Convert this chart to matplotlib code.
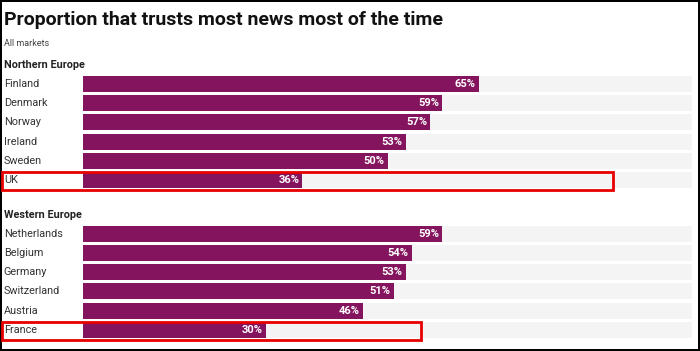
import matplotlib
matplotlib.use("Agg")
import matplotlib.pyplot as plt
from matplotlib.patches import Rectangle

plt.rcParams['font.family'] = ['Roboto', 'DejaVu Sans']

# data
northern = ['Finland', 'Denmark', 'Norway', 'Ireland', 'Sweden', 'UK']
northern_vals = [65, 59, 57, 53, 50, 36]
western = ['Netherlands', 'Belgium', 'Germany', 'Switzerland', 'Austria', 'France']
western_vals = [59, 54, 53, 51, 46, 30]
groups = ['Northern Europe', 'Western Europe']

bar_col = '#84145e'
bg_col = '#f4f4f4'
txt_col = '#333333'

W, H = 700, 351
fig = plt.figure(figsize=(W / 100, H / 100), dpi=100)
fig.patch.set_edgecolor('black')
fig.patch.set_linewidth(1.5)

ax = fig.add_axes([83 / W, 0, (692 - 83) / W, 1])
ax.set_xlim(0, 100)
ax.set_ylim(13.906, -4.375)
ax.axis('off')

row_h = 0.83
n_pos = [i for i in range(len(northern))]
w_pos = [7.8 + i for i in range(len(western))]
header_pos = [-1, 6.8]

for names, vals, pos in [(northern, northern_vals, n_pos), (western, western_vals, w_pos)]:
    ax.barh(pos, [100] * len(vals), height=row_h, color=bg_col)
    ax.barh(pos, vals, height=row_h, color=bar_col)
    for n, v, p in zip(names, vals, pos):
        ax.text(v - 0.5, p, f'{v}%', ha='right', va='center', color='white',
                fontsize=8, fontweight='bold')
        ax.text(-13.0, p, n, ha='left', va='center', color=txt_col, fontsize=7.8)

for g, p in zip(groups, header_pos):
    ax.text(-13.0, p, g, ha='left', va='center', color='#222222', fontsize=7.8,
            fontweight='bold')

# highlight boxes
ax.add_patch(Rectangle((-13.3, 4.58), 100.3, 0.94, fill=False, edgecolor='#e80000',
                       linewidth=2, clip_on=False))
ax.add_patch(Rectangle((-13.3, 12.4), 68.8, 0.93, fill=False, edgecolor='#e80000',
                       linewidth=2, clip_on=False))

fig.text(4 / W, 1 - 20 / H, 'Proportion that trusts most news most of the time',
         ha='left', va='center', fontsize=14, fontweight='bold', color='#111111')
fig.text(4 / W, 1 - 43 / H, 'All markets', ha='left', va='center', fontsize=6.5,
         color='#444444')

fig.savefig('out.png', dpi=100, edgecolor=fig.get_edgecolor())
